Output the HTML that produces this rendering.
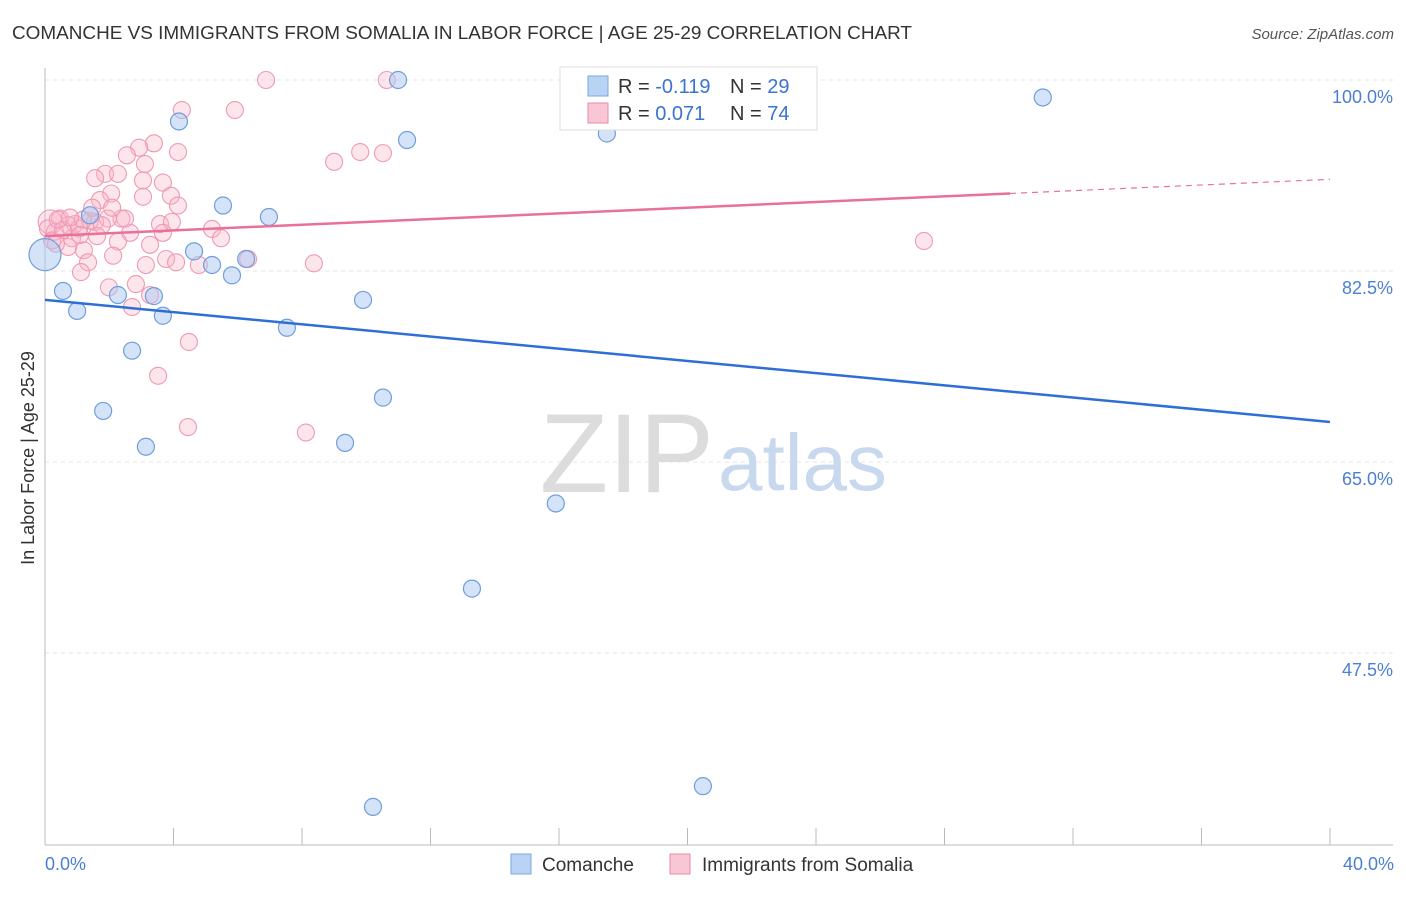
<!DOCTYPE html>
<html><head><meta charset="utf-8"><style>
body{margin:0;background:#fff;font-family:"Liberation Sans",sans-serif;}
svg text{font-family:"Liberation Sans",sans-serif;}
</style></head><body>
<svg id="chart" width="1406" height="892" viewBox="0 0 1406 892">
<text x="12" y="39" font-size="18" fill="#333" textLength="900" lengthAdjust="spacingAndGlyphs">COMANCHE VS IMMIGRANTS FROM SOMALIA IN LABOR FORCE | AGE 25-29 CORRELATION CHART</text>
<text x="1394" y="39" font-size="15" fill="#555" text-anchor="end" font-style="italic">Source: ZipAtlas.com</text>
<g id="grid"></g>
<g id="axes"></g>
<text x="714" y="492" font-size="112" fill="#dcdcdc" text-anchor="end" font-family="Liberation Serif">ZIP</text>
<text x="718" y="490" font-size="80" fill="#c8d8ee">atlas</text>
<g id="pink"></g>
<g id="blue"></g>
<g id="trends"></g>
<text x="34" y="458" font-size="18" fill="#333" text-anchor="middle" transform="rotate(-90 34 458)">In Labor Force | Age 25-29</text>
<text x="45" y="870" font-size="18" fill="#4a7fd4">0.0%</text>
<text x="1394" y="870" font-size="18" fill="#4a7fd4" text-anchor="end">40.0%</text>
<g>
<rect x="560" y="67" width="257" height="63" fill="#fff" stroke="#ddd"/>
<rect x="588" y="76" width="20" height="20" fill="#b9d3f5" stroke="#7aa8e0"/>
<rect x="588" y="103" width="20" height="20" fill="#f9c6d5" stroke="#e889a6"/>
<text x="618" y="93" font-size="20" fill="#333">R = <tspan fill="#3a74d0">-0.119</tspan></text>
<text x="730" y="93" font-size="20" fill="#333">N = <tspan fill="#3a74d0">29</tspan></text>
<text x="618" y="120" font-size="20" fill="#333">R = <tspan fill="#3a74d0"> 0.071</tspan></text>
<text x="730" y="120" font-size="20" fill="#333">N = <tspan fill="#3a74d0">74</tspan></text>
</g>
<g>
<rect x="511" y="854" width="20" height="20" fill="#b9d3f5" stroke="#7aa8e0"/>
<text x="542" y="871" font-size="19" fill="#333">Comanche</text>
<rect x="670" y="854" width="20" height="20" fill="#f9c6d5" stroke="#e889a6"/>
<text x="702" y="871" font-size="19" fill="#333">Immigrants from Somalia</text>
</g>
</svg>
<script>
const yTicks=[100,82.5,65,47.5];
const yTickLabels=["100.0%","82.5%","65.0%","47.5%"];
const xTicks=[0,4,8,12,16,20,24,28,32,36,40];
const blueX=[0,0.56,1.0,1.4,1.81,2.27,2.71,3.14,3.39,3.67,4.17,4.64,5.2,5.54,5.82,6.26,6.97,7.53,9.34,9.9,10.21,10.52,10.99,11.27,15.9,17.49,13.29,20.48,31.06];
const blueY=[84.0,80.67,78.84,87.6,69.68,80.3,75.2,66.4,80.2,78.4,96.2,84.3,83.05,88.5,82.1,83.6,87.45,77.3,66.75,79.85,33.4,70.9,100,94.5,61.2,95.1,53.4,35.3,98.4];
const pinkX=[6.88,10.64,4.26,5.91,3.39,2.93,4.14,2.55,9.81,10.52,9.0,1.87,2.27,1.56,3.05,3.67,2.06,3.05,3.92,1.71,4.14,2.38,0.47,1.4,0.93,1.56,1.96,0.16,0.72,3.58,3.95,0.31,1.06,1.77,2.65,3.67,5.2,1.62,0.84,2.27,3.27,5.48,0.72,1.21,2.12,1.34,3.14,3.77,4.08,4.79,6.32,8.37,1.12,1.99,2.83,3.27,2.71,4.48,3.52,4.45,8.12,27.36,0.09,0.22,0.56,0.4,1.18,2.49,2.09,1.09,0.78,1.47,0.34,3.11];
const pinkY=[100,100,97.25,97.25,94.2,93.8,93.4,93.1,93.4,93.3,92.5,91.4,91.4,91.0,90.8,90.6,89.6,89.3,89.4,89.0,88.5,87.3,87.3,87.1,86.8,87.0,87.3,87.0,86.7,86.8,87.0,86.1,86.4,86.7,86.0,86.0,86.35,85.7,85.5,85.2,84.9,85.5,84.7,84.4,83.9,83.3,83.05,83.6,83.3,83.05,83.6,83.2,82.4,81.0,81.3,80.3,79.2,76.0,72.9,68.2,67.7,85.25,86.4,85.3,86.25,87.2,87.2,87.3,88.3,85.8,87.4,88.3,85.0,92.3];
const blueTrend=[79.85,68.67];
const pinkTrend=[85.7,90.9];
const pinkSolidEnd=30.04;
const NS="http://www.w3.org/2000/svg";
const X=v=>45+v/40*1285;
const Y=v=>80+(100-v)/17.5*191;
function mk(t,a,p){const e=document.createElementNS(NS,t);for(const k in a)e.setAttribute(k,a[k]);p.appendChild(e);return e;}
const grid=document.getElementById('grid'),axes=document.getElementById('axes');
yTicks.forEach((t,i)=>{
 const l=mk('line',{x1:45,x2:1393,y1:Y(t),y2:Y(t),stroke:'#e4e4e4','stroke-dasharray':'4,4'},grid);
 
 
 const tx=mk('text',{x:1393,y:Y(t)+23,'font-size':18,fill:'#4a7fd4','text-anchor':'end'},axes);
 tx.textContent=yTickLabels[i];
 
 
});
const ya=mk('line',{x1:45,x2:45,y1:68,y2:845,stroke:'#bbb'},axes);


const xa=mk('line',{x1:45,x2:1393,y1:845,y2:845,stroke:'#bbb'},axes);


xTicks.forEach(t=>{const l=mk('line',{x1:X(t),x2:X(t),y1:828,y2:845,stroke:'#bbb'},axes);
 
 });
const pg=document.getElementById('pink');
pinkX.forEach((x,i)=>{const c=mk('circle',{cx:X(x),cy:Y(pinkY[i]),r:i==27?12:8.5,fill:'rgba(248,180,200,0.35)',stroke:'#ee9ab4','stroke-width':1.1},pg);
 
 });
const bg=document.getElementById('blue');
blueX.forEach((x,i)=>{const c=mk('circle',{cx:X(x),cy:Y(blueY[i]),r:i==0?16:8.5,fill:'rgba(170,200,240,0.5)',stroke:'#6f9fdc','stroke-width':1.2},bg);
 
 });
const tg=document.getElementById('trends');
const b=mk('line',{x1:X(0),y1:Y(blueTrend[0]),x2:X(40),y2:Y(blueTrend[1]),stroke:'#2e6fd6','stroke-width':2.5},tg);


const pe=pinkTrend[0]+(pinkTrend[1]-pinkTrend[0])*pinkSolidEnd/40;
const p=mk('line',{x1:X(0),y1:Y(pinkTrend[0]),x2:X(pinkSolidEnd),y2:Y(pe),stroke:'#e8709a','stroke-width':2.5},tg);


const pd=mk('line',{x1:X(pinkSolidEnd),y1:Y(pe),x2:X(40),y2:Y(pinkTrend[1]),stroke:'#e8709a','stroke-width':1.2,'stroke-dasharray':'6,5'},tg);


</script>
</body></html>
